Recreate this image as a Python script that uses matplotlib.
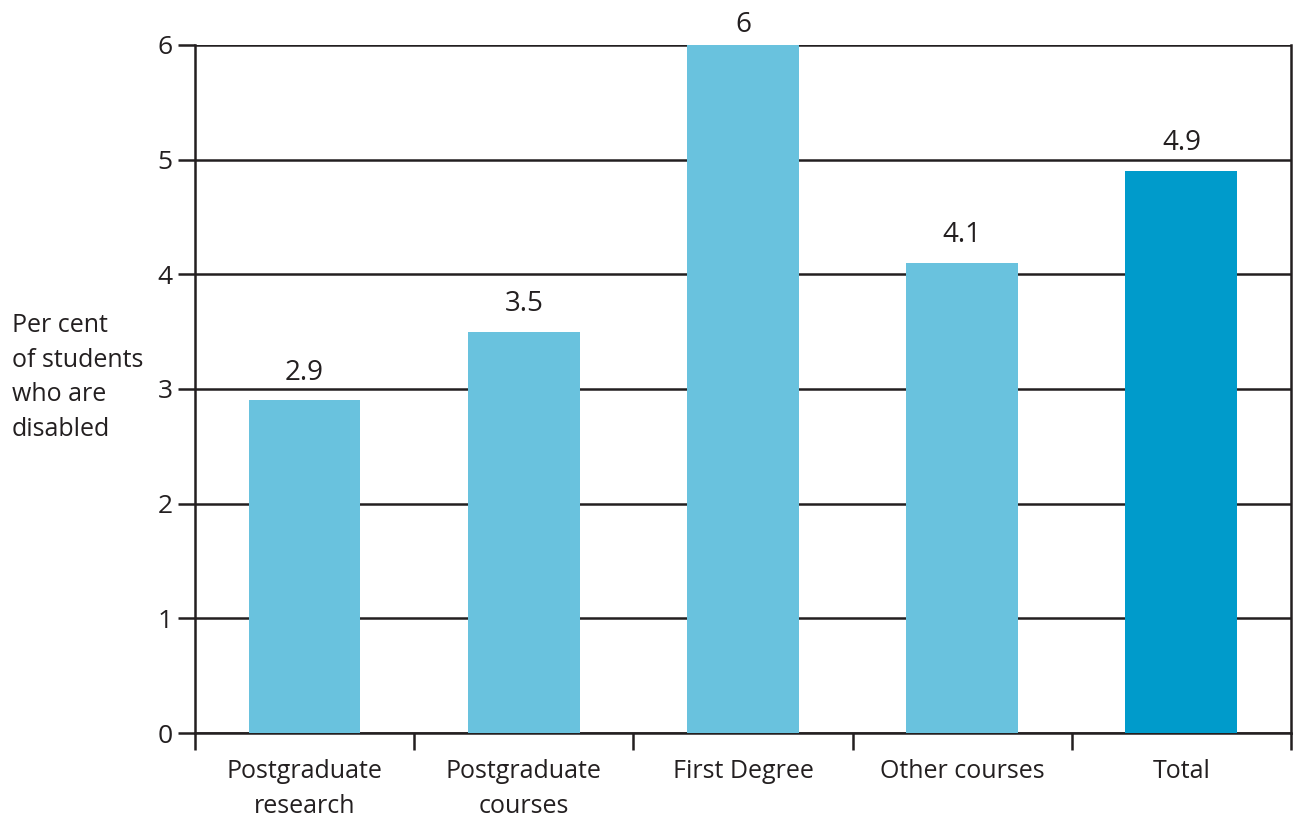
import matplotlib.pyplot as plt
import numpy as np

plt.rcParams['font.family'] = ['Open Sans', 'DejaVu Sans']

categories = ["Postgraduate\nresearch", "Postgraduate\ncourses", "First Degree",
              "Other courses", "Total"]
values = [2.9, 3.5, 6, 4.1, 4.9]
value_labels = ["2.9", "3.5", "6", "4.1", "4.9"]
colors = ["#69c2de", "#69c2de", "#69c2de", "#69c2de", "#009bcb"]
ink = "#231f20"

fig = plt.figure(figsize=(12.98, 8.18), dpi=100)
ax = fig.add_axes([0.1502, 0.1039, 0.8444, 0.8411])

x = np.arange(len(categories))
ax.bar(x, values, width=0.51, color=colors, zorder=3)

# labels above bars; squeeze the tallest one down so it fits the page
for xi, v, lab in zip(x, values, value_labels):
    ax.text(xi, min(v + 0.12, 6.05), lab, ha='center', va='bottom',
            fontsize=20, color=ink, clip_on=False)

ax.set_xlim(-0.5, len(categories) - 0.5)
ax.set_ylim(0, 6)
ax.set_yticks(range(0, 7))
ax.yaxis.grid(True, color=ink, linewidth=1.8, zorder=1)
ax.set_axisbelow(True)

ax.set_xticks(np.arange(-0.5, len(categories), 1.0))
ax.set_xticklabels([])
ax.set_xticks(x, minor=True)
ax.set_xticklabels(categories, minor=True, fontsize=18, color=ink,
                   linespacing=1.5)
ax.tick_params(axis='x', which='major', length=12, width=1.8, color=ink,
               direction='out')
ax.tick_params(axis='x', which='minor', length=0, pad=19)
ax.tick_params(axis='y', length=12, width=1.8, color=ink, labelsize=19,
               labelcolor=ink, pad=4)

for side in ['left', 'right', 'bottom']:
    ax.spines[side].set_color(ink)
    ax.spines[side].set_linewidth(1.8)
ax.spines['top'].set_visible(False)

fig.text(0.009, 0.617, "Per cent\nof students\nwho are\ndisabled",
         ha='left', va='top', fontsize=18, color=ink, linespacing=1.5)

plt.savefig("out.png", dpi=100)
